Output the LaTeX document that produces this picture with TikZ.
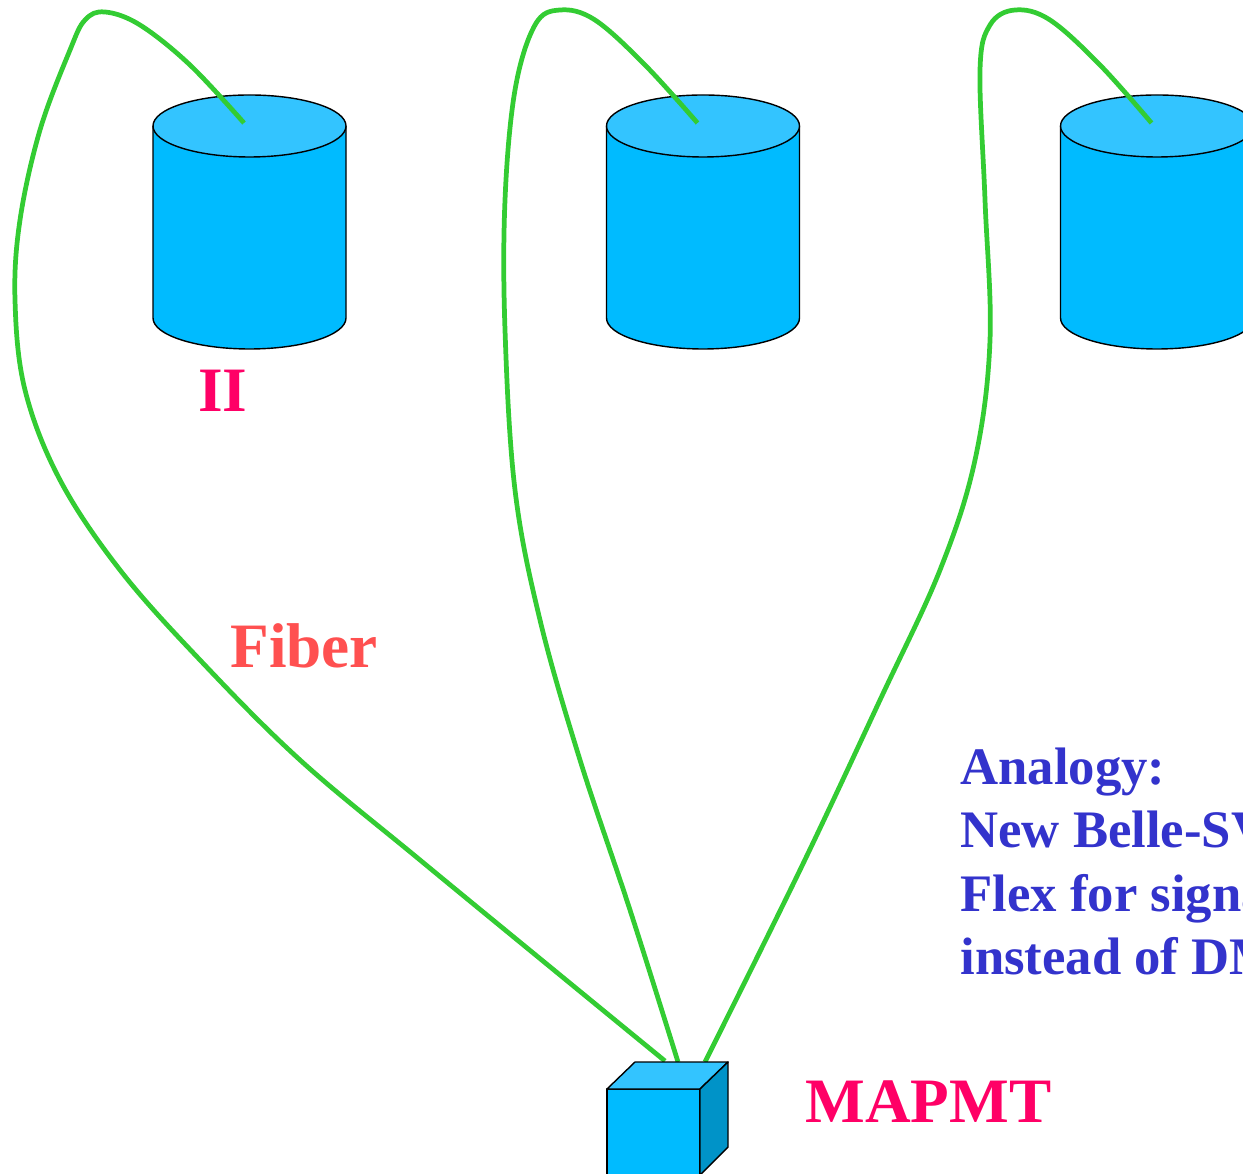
\documentclass[tikz,border=0pt]{standalone}
\usepackage{fontspec}
\setmainfont{Liberation Serif}
\usetikzlibrary{positioning}

\definecolor{cylside}{RGB}{0,187,255}
\definecolor{cyltop}{RGB}{51,196,255}
\definecolor{cubeside}{RGB}{0,147,200}
\definecolor{fibergreen}{RGB}{51,204,51}
\definecolor{labelred}{RGB}{255,0,102}
\definecolor{fiberred}{RGB}{255,80,80}
\definecolor{noteblue}{RGB}{51,51,204}

\begin{document}
\begin{tikzpicture}[x=0.02cm,y=0.02cm,
                    outline/.style={draw=black,line width=0.8pt,line join=round},
                    fiber/.style={draw=fibergreen,line width=2.7pt},
                    biglabel/.style={inner sep=0pt,anchor=base west,
                      font=\fontsize{36}{40}\selectfont\bfseries},
                    note/.style={inner sep=0pt,anchor=base west,text=noteblue,
                      font=\fontsize{30}{36}\selectfont\bfseries}]
  \clip (0,0) rectangle (1243,1173);
  % cylinders
  \foreach \cx [count=\i] in {249.5,703,1157} {
    \path[outline,fill=cylside] (\cx-96.5,1047) -- (\cx-96.5,855)
      arc[start angle=180,end angle=360,x radius=96.5,y radius=31]
      -- (\cx+96.5,1047);
    \path[outline,fill=cyltop] (\cx,1047) ellipse [x radius=96.5,y radius=31];
    \coordinate (cyl\i) at (\cx,1047);
    \coordinate (fend\i) at (\cx-5.5,1050);
  }
  % fibre ends on the tube
  \coordinate (pmt1) at (665,112);
  \coordinate (pmt2) at (678,111);
  \coordinate (pmt3) at (705,111);
  % fibres
  \draw[fiber] plot[smooth,tension=0.6] coordinates {(fend1) (190,1108) (140,1148)
    (105,1161) (85,1153) (70,1123) (40,1043) (20,953) (15,873) (25,783) (60,693)
    (120,603) (200,513) (300,413) (420,313) (560,198) (pmt1)};
  \draw[fiber] plot[smooth,tension=0.6] coordinates {(fend2) (645,1108) (595,1153)
    (560,1163) (535,1148) (515,1083) (505,973) (505,843) (515,683) (540,553)
    (580,413) (630,263) (pmt2)};
  \draw[fiber] plot[smooth,tension=0.6] coordinates {(fend3) (1100,1108) (1050,1153)
    (1015,1163) (990,1148) (980,1103) (985,973) (990,833) (975,713) (940,603)
    (880,473) (800,303) (pmt3)};
  % MAPMT box
  \path[outline,fill=cylside] (607,-2) rectangle (700,84);
  \path[outline,fill=cyltop] (607,84) -- (635,111) -- (728,111) -- (700,84) -- cycle;
  \path[outline,fill=cubeside] (700,84) -- (728,111) -- (728,26) -- (700,-2) -- cycle;
  \coordinate (box) at (653,40);
  % labels
  \node[biglabel,text=labelred] (ii) at (198,761) {II};
  \node[biglabel,text=fiberred] (fib) at (230,505) {Fiber};
  \node[biglabel,text=labelred] (mapmt) at (805,51) {MAPMT};
  \foreach \txt [count=\j] in {Analogy:,New Belle-SVD,Flex for signal,instead of DM}
    \node[note] (note\j) at (960,451-63*\j) {\txt};
\end{tikzpicture}
\end{document}
